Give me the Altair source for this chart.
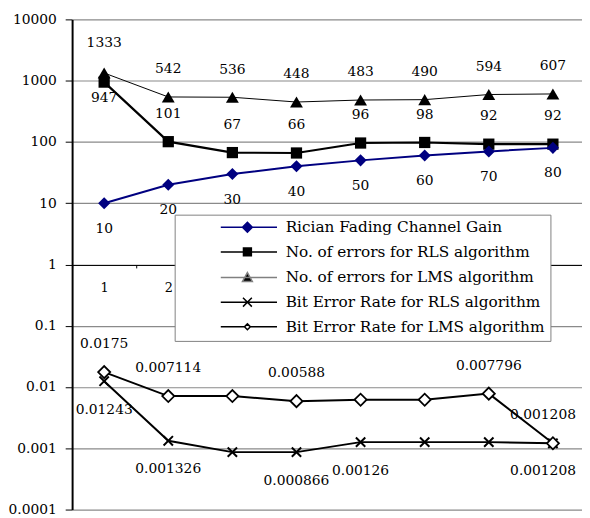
import altair as alt
import pandas as pd

categories = ["1", "2", "3", "4", "5", "6", "7", "8"]
series_names = [
    "Rician Fading Channel Gain",
    "No. of errors for RLS algorithm",
    "No. of errors for LMS algorithm",
    "Bit Error Rate for RLS algorithm",
    "Bit Error Rate for LMS algorithm",
]
gain = [10, 20, 30, 40, 50, 60, 70, 80]
rls_errors = [947, 101, 67, 66, 96, 98, 92, 92]
lms_errors = [1333, 542, 536, 448, 483, 490, 594, 607]
ber_rls = [0.01243, 0.001326, 0.000866, 0.000866, 0.00126, 0.00126, 0.00126, 0.001208]
ber_lms = [0.0175, 0.007114, 0.007114, 0.00588, 0.0062, 0.0062, 0.007796, 0.001208]

gain_labels = ["10", "20", "30", "40", "50", "60", "70", "80"]
rls_error_labels = ["947", "101", "67", "66", "96", "98", "92", "92"]
lms_error_labels = ["1333", "542", "536", "448", "483", "490", "594", "607"]
ber_rls_labels = ["0.01243", "0.001326", "", "0.000866", "0.00126", "", "", "0.001208"]
ber_lms_labels = ["0.0175", "0.007114", "", "0.00588", "", "", "0.007796", "0.001208"]

y_ticks = [0.0001, 0.001, 0.01, 0.1, 1, 10, 100, 1000, 10000]

values = [gain, rls_errors, lms_errors, ber_rls, ber_lms]
labels = [gain_labels, rls_error_labels, lms_error_labels, ber_rls_labels, ber_lms_labels]
rows = []
for s, vals, labs in zip(series_names, values, labels):
    for i, (c, v, l) in enumerate(zip(categories, vals, labs)):
        rows.append({"cat": c, "series": s, "value": v, "label": l, "idx": i + 1})
df = pd.DataFrame(rows)

FONT = "DejaVu Serif"

x_enc = alt.X("cat:N", sort=categories,
              scale=alt.Scale(type="band", domain=categories, range=[0, 520],
                              paddingInner=0, paddingOuter=0),
              axis=alt.Axis(orient="bottom", offset=-248, title=None, labelAngle=0,
                            domainColor="black", domainWidth=1, tickColor="black",
                            tickSize=3, tickBand="extent", labelPadding=14,
                            labelFont=FONT, labelFontSize=13, labelColor="black",
                            labelExpr="(datum.value == '1' || datum.value == '2') ? datum.label : ''",
                            grid=False))
y_enc = alt.Y("value:Q",
              scale=alt.Scale(type="log", domain=[0.0001, 10000], nice=False),
              axis=alt.Axis(values=y_ticks, format="~g", title=None, grid=True,
                            gridColor="#8a8a8a", gridWidth=1.2, domainColor="black",
                            domainWidth=2, tickColor="black", tickSize=7,
                            labelPadding=9, labelFont=FONT, labelFontSize=14,
                            labelColor="black"))

base = alt.Chart(df).encode(x=x_enc, y=y_enc)


def sel(name):
    return alt.datum.series == name


layers = []
styles = {
    series_names[0]: dict(line=dict(color="#000080", strokeWidth=2),
                          point=dict(shape="diamond", size=150, filled=True, color="#000080")),
    series_names[1]: dict(line=dict(color="black", strokeWidth=2.2),
                          point=dict(shape="square", size=130, filled=True, color="black")),
    series_names[2]: dict(line=dict(color="black", strokeWidth=1),
                          point=dict(shape="triangle-up", size=170, filled=True, color="black")),
    series_names[3]: dict(line=dict(color="black", strokeWidth=2),
                          point=dict(shape="M-1,-1L1,1M-1,1L1,-1", size=90, filled=False,
                                     stroke="black", strokeWidth=2)),
    series_names[4]: dict(line=dict(color="black", strokeWidth=2),
                          point=dict(shape="diamond", size=150, filled=True, fill="white",
                                     stroke="black", strokeWidth=1.8)),
}
for name in series_names[1:3] + series_names[0:1] + series_names[3:]:
    st = styles[name]
    layers.append(base.transform_filter(sel(name)).mark_line(**st["line"]))
    layers.append(base.transform_filter(sel(name)).mark_point(opacity=1, **st["point"]))

# data labels: default offset per series, with a few exceptions
label_dy = {series_names[0]: 26, series_names[1]: -28, series_names[2]: -28,
            series_names[3]: 29, series_names[4]: -28}
exceptions = {
    (series_names[1], 1): dict(dy=16),
    (series_names[2], 1): dict(dy=-30),
    (series_names[3], 8): dict(dy=28, dx=-10),
    (series_names[4], 8): dict(dy=-29, dx=-10),
}
for name in series_names:
    exc_idx = [i for (n, i) in exceptions if n == name]
    cond = (alt.datum.series == name) & (alt.datum.label != "")
    f = cond
    for i in exc_idx:
        f = f & (alt.datum.idx != i)
    layers.append(base.transform_filter(f).mark_text(
        font=FONT, fontSize=14, color="black", baseline="middle", align="center",
        dy=label_dy[name]).encode(text="label:N"))
    for i in exc_idx:
        kw = exceptions[(name, i)]
        layers.append(base.transform_filter(cond & (alt.datum.idx == i)).mark_text(
            font=FONT, fontSize=14, color="black", baseline="middle", align="center",
            **kw).encode(text="label:N"))

legend_paths = [
    "M-5.4,0H6M0,-1L1,0L0,1L-1,0Z",
    "M-5.4,0H6M-0.8,-0.8H0.8V0.8H-0.8Z",
    "M-5.4,0H6M0,-1L1,0.8H-1Z",
    "M-5.4,0H6M-0.9,-0.9L0.9,0.9M-0.9,0.9L0.9,-0.9",
    "M-5.4,0H-0.6M0.6,0H6M0,-0.6L0.6,0L0,0.6L-0.6,0Z",
]
leg = alt.Legend(title=None, orient="none", legendX=104, legendY=198,
                 fillColor="white", strokeColor="#808080", padding=5,
                 labelFont=FONT, labelFontSize=15.5, labelColor="black",
                 labelLimit=500, symbolSize=100, symbolStrokeWidth=1.5,
                 symbolFillColor="white", symbolStrokeColor="black",
                 symbolOffset=61, labelOffset=31, rowPadding=8.0, zindex=1,
                 labelExpr="datum.label + '" + "\u00a0" * 8 + "'")
legend_layer = base.mark_point(opacity=0, filled=True).encode(
    shape=alt.Shape("series:N", scale=alt.Scale(domain=series_names, range=legend_paths), legend=leg),
    fill=alt.Fill("series:N", scale=alt.Scale(domain=series_names,
                  range=["#000080", "black", "black", "transparent", "white"]), legend=leg),
    stroke=alt.Stroke("series:N", scale=alt.Scale(domain=series_names,
                      range=["#000080", "black", "#808080", "black", "black"]), legend=leg),
)
layers.append(legend_layer)

chart = alt.layer(*layers).properties(
    width=517, height=497,
    padding={"left": 65, "top": 8, "right": 0, "bottom": 4},
    autosize=alt.AutoSizeParams(type="none"),
    background="white",
).configure_view(stroke=None)

chart.save("out.html", embed_options={"renderer": "svg", "actions": False})
